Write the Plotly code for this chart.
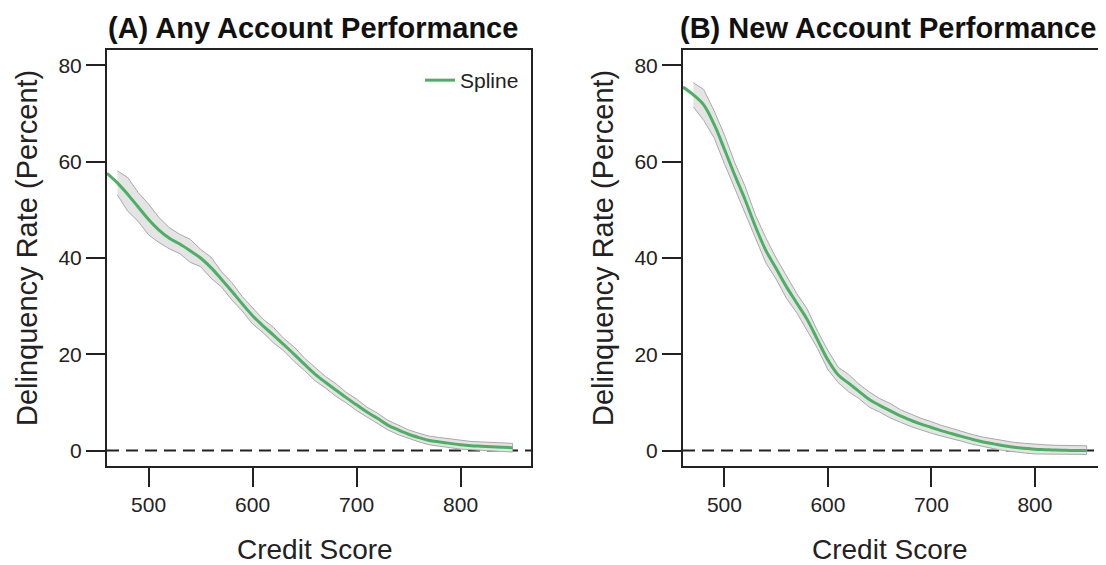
import plotly.graph_objects as go

# ---------------- data ----------------
score_x = [460, 470, 480, 490, 500, 510, 520, 530, 540, 550, 560, 570, 580, 590,
           600, 610, 620, 630, 640, 650, 660, 670, 680, 690, 700, 710, 720, 730,
           740, 750, 760, 770, 780, 790, 800, 810, 820, 830, 840, 850]

spline_any = [57.6, 55.6, 53.2, 50.6, 48.0, 45.8, 44.1, 42.9, 41.5, 40.0, 38.0, 35.6,
              33.1, 30.5, 28.0, 25.9, 24.0, 22.0, 20.0, 17.9, 15.9, 14.2, 12.6, 11.0,
              9.5, 8.0, 6.7, 5.3, 4.3, 3.4, 2.7, 2.1, 1.8, 1.5, 1.2, 1.0, 0.9, 0.8, 0.7, 0.6]

spline_new = [75.5, 73.9, 71.8, 67.8, 62.6, 57.2, 52.1, 46.5, 41.6, 37.8, 34.0, 30.6,
              27.2, 23.0, 18.8, 15.7, 14.0, 12.3, 10.6, 9.4, 8.3, 7.2, 6.3, 5.5,
              4.8, 4.1, 3.5, 2.9, 2.3, 1.8, 1.4, 1.0, 0.7, 0.5, 0.3, 0.2, 0.1, 0.05, 0.0, 0.0]

# band (binned estimates) half-widths, from x = 470 to 850
band_halfwidth_any = [2.5, 3.5, 3.0, 3.2, 2.6, 2.2, 2.0, 2.4, 1.8, 2.2, 1.6, 1.8, 1.5,
                      1.7, 1.4, 1.6, 1.3, 1.5, 1.3, 1.4, 1.2, 1.3, 1.1, 1.2, 1.0, 1.1,
                      1.0, 1.0, 0.9, 0.9, 0.9, 0.9, 0.9, 0.9, 0.9, 0.9, 0.9, 0.9, 0.9]
band_halfwidth_new = [2.5, 3.2, 2.8, 3.0, 2.6, 2.8, 2.4, 2.6, 2.2, 2.4, 2.0, 2.2, 1.8,
                      2.0, 1.6, 1.8, 1.5, 1.6, 1.4, 1.5, 1.3, 1.3, 1.2, 1.2, 1.1, 1.1,
                      1.0, 1.0, 1.0, 1.0, 1.0, 1.0, 1.0, 1.0, 1.0, 1.0, 1.0, 1.0, 1.0]

x_ticks = [500, 600, 700, 800]
y_ticks = [0, 20, 40, 60, 80]
titles = ["(A) Any Account Performance", "(B) New Account Performance"]

# ---------------- styling ----------------
OFF = 8                      # page body margin in the browser
W, H = 1106 - OFF, 565 - OFF
GREEN = "#4caf63"
AXC = "#222222"
FONT = "Liberation Sans, Arial, sans-serif"


def px(x):
    return (x - OFF) / W


def py(y):
    return 1 - (y - OFF) / H


panels = [  # left, right, top, bottom in reference pixels
    (107, 531, 50, 466),
    (683, 1105, 50, 466),
]

fig = go.Figure()

band_x = score_x[1:]
series = [(spline_any, band_halfwidth_any), (spline_new, band_halfwidth_new)]

for i, (spl, hw) in enumerate(series):
    xa = "x" if i == 0 else "x2"
    ya = "y" if i == 0 else "y2"
    upper = [s + h for s, h in zip(spl[1:], hw)]
    lower = [max(s - h, -0.8) for s, h in zip(spl[1:], hw)]
    fig.add_trace(go.Scatter(
        x=band_x + band_x[::-1], y=upper + lower[::-1],
        fill="toself", fillcolor="#e4e4e4",
        line=dict(color="#a9a9a9", width=1),
        mode="lines", showlegend=False, hoverinfo="skip",
        xaxis=xa, yaxis=ya))
    fig.add_trace(go.Scatter(
        x=score_x, y=spl, mode="lines", name="Spline",
        line=dict(color=GREEN, width=3, shape="spline"),
        showlegend=(i == 0), xaxis=xa, yaxis=ya))

layout = dict(
    width=W, height=H,
    margin=dict(l=0, r=0, t=0, b=0),
    paper_bgcolor="white", plot_bgcolor="white",
    font=dict(family=FONT, color="#222222", size=21),
    legend=dict(x=px(524), y=py(60), xanchor="right", yanchor="top",
                bgcolor="rgba(0,0,0,0)", font=dict(size=21)),
    annotations=[], shapes=[],
)

for i, (l, r, t, b) in enumerate(panels):
    sfx = "" if i == 0 else "2"
    layout["xaxis" + sfx] = dict(
        domain=[px(l), min(px(r), 1.0)], range=[460, 867.7], anchor="y" + sfx,
        tickvals=x_ticks, ticks="outside", ticklen=19, tickwidth=2, tickcolor=AXC,
        showline=True, linewidth=2, linecolor=AXC, mirror=True,
        showgrid=False, zeroline=False, tickfont=dict(size=21))
    layout["yaxis" + sfx] = dict(
        domain=[py(b), py(t)], range=[-3.2, 83.2], anchor="x" + sfx,
        tickvals=y_ticks, ticks="outside", ticklen=19, tickwidth=2, tickcolor=AXC,
        showline=True, linewidth=2, linecolor=AXC, mirror=True,
        showgrid=False, zeroline=False, tickfont=dict(size=21))
    cx = (l + r) / 2
    layout["annotations"] += [
        dict(text="<b>" + titles[i] + "</b>", x=px(cx - 6), y=py(28),
             xref="paper", yref="paper", showarrow=False,
             font=dict(size=29, color="#111111"), xanchor="center", yanchor="middle"),
        dict(text="Credit Score", x=px(cx - 4), y=py(549),
             xref="paper", yref="paper", showarrow=False,
             font=dict(size=28), xanchor="center", yanchor="middle"),
        dict(text="Delinquency Rate (Percent)", x=px(l - 80), y=py((t + b) / 2 - 10),
             xref="paper", yref="paper", showarrow=False, textangle=-90,
             font=dict(size=29), xanchor="center", yanchor="middle"),
    ]
    layout["shapes"].append(dict(
        type="line", xref="x" + sfx + " domain", yref="y" + sfx,
        x0=0, x1=1, y0=0, y1=0,
        line=dict(color=AXC, width=2, dash="12px,7px"), layer="below"))

fig.update_layout(**layout)
fig.write_html("out.html")
